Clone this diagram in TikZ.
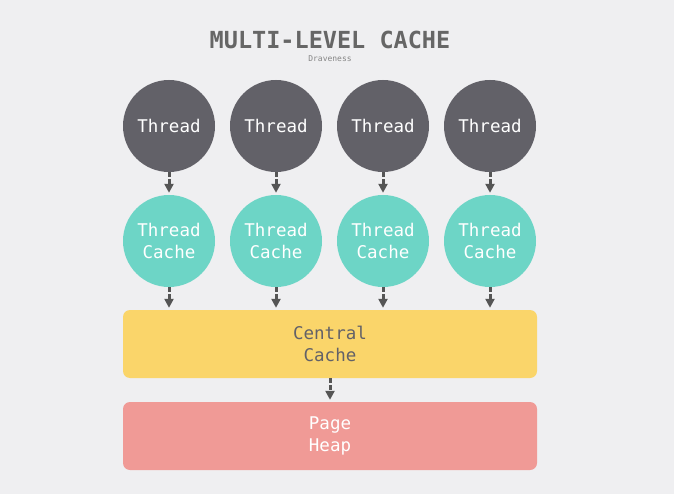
\documentclass[tikz,border=0pt]{standalone}
\usepackage{fontspec}
\setmonofont{DejaVu Sans Mono}
\usetikzlibrary{arrows.meta}
\definecolor{bg}{HTML}{EFEFF1}
\definecolor{thr}{HTML}{626168}
\definecolor{tcache}{HTML}{6DD5C6}
\definecolor{central}{HTML}{FAD56A}
\definecolor{pheap}{HTML}{F09A96}
\definecolor{titlec}{HTML}{666666}
\definecolor{conn}{HTML}{555555}
\tikzset{
  threadnode/.style={circle, fill=thr, minimum size=92pt, inner sep=0pt, text=white, font=\ttfamily\fontsize{17.5}{22}\selectfont},
  cachenode/.style={circle, fill=tcache, minimum size=92pt, inner sep=0pt, text=white, align=center, font=\ttfamily\fontsize{17.5}{22}\selectfont},
  bigbox/.style={rounded corners=7pt, minimum width=414pt, minimum height=68pt, inner sep=0pt, align=center, font=\ttfamily\fontsize{17.5}{22}\selectfont},
  conn/.style={draw=conn, line width=3pt, dash pattern=on 5pt off 2pt, -{Triangle[width=9pt,length=9pt]}, shorten >=2pt},
}
\begin{document}
\begin{tikzpicture}[x=1pt,y=-1pt]
\fill[bg] (0,0) rectangle (674,494);
\useasboundingbox (0,0) rectangle (674,494);
\node[text=titlec, font=\ttfamily\bfseries\fontsize{23.5}{26}\selectfont] (title) at (330,40) {MULTI-LEVEL CACHE};
\node[text=titlec!80, font=\ttfamily\fontsize{8}{10}\selectfont] (sub) at (330,59) {Draveness};
\foreach \i/\x in {1/169,2/276,3/383,4/490}{
  \node[threadnode] (t\i) at (\x,126) {Thread};
  \node[cachenode] (c\i) at (\x,241) {Thread\\Cache};
}
\node[bigbox, fill=central, text=thr] (cc) at (330,344) {Central\\Cache};
\node[bigbox, fill=pheap, text=white] (ph) at (330,436) {Page\\Heap};
\foreach \i in {1,2,3,4}{
  \draw[conn] (t\i) -- (c\i);
  \draw[conn] (c\i) -- (c\i |- cc.north);
}
\draw[conn] (cc) -- (ph);
\end{tikzpicture}
\end{document}
